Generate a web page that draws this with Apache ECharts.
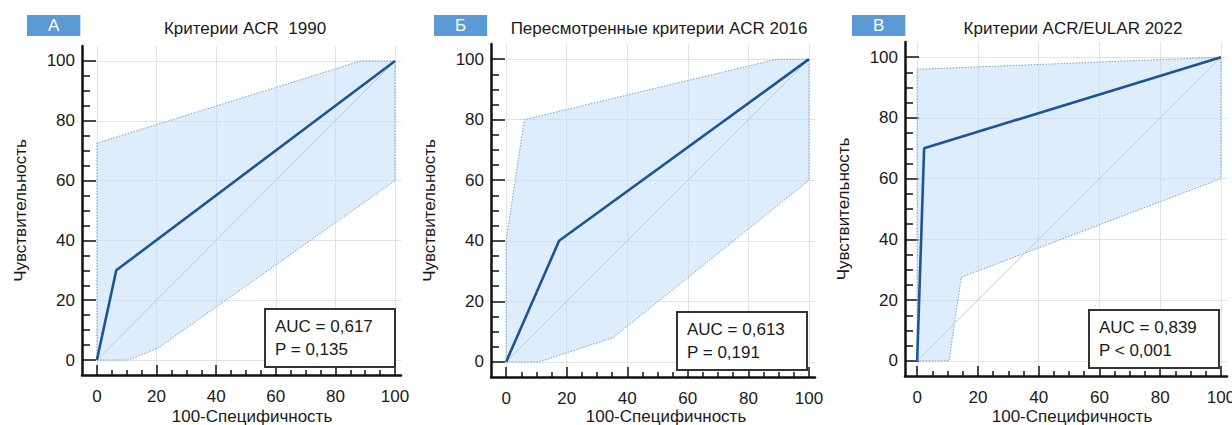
<!DOCTYPE html>
<html><head><meta charset="utf-8">
<script src="https://cdn.jsdelivr.net/npm/echarts@6/dist/echarts.min.js"></script>
<style>html,body{margin:0;padding:0;background:#fff;overflow:hidden}
#c{position:absolute;left:0;top:0;width:1250px;height:440px}</style>
</head><body><div id="c"></div>
<script>
// ---- data ----
const panelLetters = ['А', 'Б', 'В'];
const panelTitles = ['Критерии ACR  1990', 'Пересмотренные критерии ACR 2016', 'Критерии ACR/EULAR 2022'];
const xTickValues = [0, 20, 40, 60, 80, 100];
const yTickValues = [0, 20, 40, 60, 80, 100];
const minorTickValues = [5, 10, 15, 25, 30, 35, 45, 50, 55, 65, 70, 75, 85, 90, 95];
const xAxisTitle = '100-Специфичность';
const yAxisTitle = 'Чувствительность';
const aucTexts = ['AUC = 0,617', 'AUC = 0,613', 'AUC = 0,839'];
const pTexts = ['P = 0,135', 'P = 0,191', 'P < 0,001'];
const diagonal = [[0, 0], [100, 100]];

const rocA = [[0, 0], [6.5, 30], [100, 100]];
const upperA = [[0, 0], [0, 72.5], [88.5, 100], [100, 100]];
const lowerA = [[100, 60], [20.5, 4], [10.5, 0], [0, 0]];

const rocB = [[0, 0], [17.5, 40], [100, 100]];
const upperB = [[0, 0], [0, 40], [6, 80], [89.5, 100], [100, 100]];
const lowerB = [[100, 60], [35.3, 8], [11, 0], [0, 0]];

const rocC = [[0, 0], [2.3, 70], [100, 100]];
const upperC = [[0, 0], [0, 96], [100, 100]];
const lowerC = [[100, 60], [14.5, 27.5], [10.5, 0], [0, 0]];

const rocs = [rocA, rocB, rocC];
const bands = [upperA.concat(lowerA), upperB.concat(lowerB), upperC.concat(lowerC)];

// ---- layout (pixels) ----
const FONT = '"Liberation Sans", Arial, sans-serif';
const TXT = '#1a1a1a';
const layout = [
  { grid: { left: 82, top: 46, width: 319, height: 329 }, xMin: -5, xMax: 102,
    badge: [27, 15], titleX: 245, xNameX: 252, box: [265, 309], diag: '#c4c8d6' },
  { grid: { left: 491, top: 44, width: 324, height: 333 }, xMin: -5, xMax: 102,
    badge: [434, 15], titleX: 659, xNameX: 666, box: [677, 312], diag: '#d8c0c8' },
  { grid: { left: 905, top: 42, width: 322, height: 334 }, xMin: -4, xMax: 102,
    badge: [852, 15], titleX: 1073, xNameX: 1072, box: [1089, 310], diag: '#ebbcbc' }
];
const labelStyle = { color: TXT, fontSize: 17, fontFamily: FONT };

const grids = [], xMajor = [], xMinor = [], yMajor = [], yMinor = [], series = [], titles = [];
layout.forEach((L, i) => {
  grids.push(Object.assign({ containLabel: false, outerBoundsMode: 'none' }, L.grid));
  xMajor.push({
    type: 'value', gridIndex: i, min: L.xMin, max: L.xMax, position: 'bottom',
    axisLine: { show: true, onZero: false, lineStyle: { color: '#111', width: 2.5 } },
    axisTick: { show: true, inside: true, length: 10, customValues: xTickValues, lineStyle: { color: '#111', width: 1.5 } },
    axisLabel: Object.assign({ show: true, margin: 13, customValues: xTickValues }, labelStyle),
    splitLine: { show: true, lineStyle: { color: '#e3e3e3', width: 1 } }
  });
  xMinor.push({
    type: 'value', gridIndex: i, min: L.xMin, max: L.xMax, position: 'bottom',
    axisLine: { show: false, onZero: false },
    axisTick: { show: true, inside: true, length: 5, customValues: minorTickValues, lineStyle: { color: '#111', width: 1.5 } },
    axisLabel: { show: false }, splitLine: { show: false }
  });
  yMajor.push({
    type: 'value', gridIndex: i, min: -5, max: 105, position: 'left',
    name: yAxisTitle, nameLocation: 'middle', nameGap: 53,
    nameTextStyle: { color: TXT, fontSize: 17, fontFamily: FONT },
    axisLine: { show: true, onZero: false, lineStyle: { color: '#111', width: 2.5 } },
    axisTick: { show: true, inside: true, length: 14, customValues: yTickValues, lineStyle: { color: '#111', width: 1.5 } },
    axisLabel: Object.assign({ show: true, margin: 7, customValues: yTickValues }, labelStyle),
    splitLine: { show: true, lineStyle: { color: '#e3e3e3', width: 1 } }
  });
  yMinor.push({
    type: 'value', gridIndex: i, min: -5, max: 105, position: 'left',
    axisLine: { show: false, onZero: false },
    axisTick: { show: true, inside: true, length: 8, customValues: minorTickValues, lineStyle: { color: '#111', width: 1.5 } },
    axisLabel: { show: false }, splitLine: { show: false }
  });

  const band = bands[i];
  series.push({
    type: 'custom', xAxisIndex: i, yAxisIndex: i, data: [[0, 0]], silent: true, z: 1,
    renderItem: (params, api) => ({
      type: 'polygon',
      shape: { points: band.map(p => api.coord(p)) },
      style: { fill: 'rgba(188,219,248,0.5)', stroke: '#7d9ec6', lineWidth: 1, lineDash: [1.5, 1.5] }
    })
  });
  series.push({
    type: 'line', xAxisIndex: i, yAxisIndex: i, data: diagonal, symbol: 'none', silent: true, z: 2,
    lineStyle: { color: L.diag, width: 1 }
  });
  series.push({
    type: 'line', xAxisIndex: i, yAxisIndex: i, data: rocs[i], symbol: 'none', silent: true, z: 3,
    lineStyle: { color: '#1c5597', width: 2.6 }
  });

  titles.push({ text: panelLetters[i], left: L.badge[0], top: L.badge[1], padding: [2, 21, 2, 21],
    backgroundColor: '#5b9bd5',
    textStyle: { color: '#fff', fontSize: 17, fontWeight: 'normal', fontFamily: FONT, lineHeight: 17 } });
  titles.push({ text: panelTitles[i], left: L.titleX, top: 19, textAlign: 'center', padding: 0,
    textStyle: { color: TXT, fontSize: 17, fontWeight: 'normal', fontFamily: FONT, lineHeight: 18 } });
  titles.push({ text: xAxisTitle, left: L.xNameX, top: 408, textAlign: 'center', padding: 0,
    textStyle: { color: TXT, fontSize: 17, fontWeight: 'normal', fontFamily: FONT, lineHeight: 17 } });
  titles.push({ text: aucTexts[i] + '\n' + pTexts[i], left: L.box[0], top: L.box[1], padding: [6, 22, 6, 10],
    backgroundColor: '#fff', borderColor: '#333', borderWidth: 2, z: 10,
    textStyle: { color: TXT, fontSize: 17, fontWeight: 'normal', fontFamily: FONT, lineHeight: 23 } });
});

const chart = echarts.init(document.getElementById('c'), null, { renderer: 'svg' });
chart.setOption({
  animation: false,
  title: titles,
  grid: grids,
  xAxis: xMajor.concat(xMinor),
  yAxis: yMajor.concat(yMinor),
  series: series
});
</script></body></html>
